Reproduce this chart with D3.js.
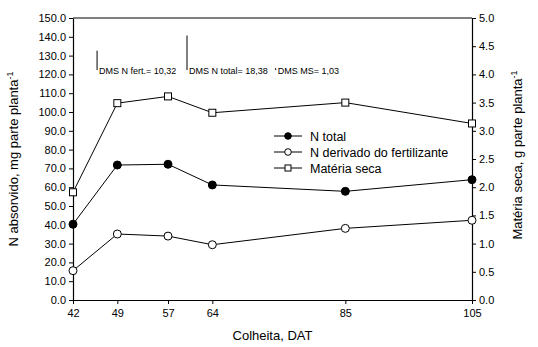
<!DOCTYPE html>
<html>
<head>
<meta charset="utf-8">
<script src="https://cdn.jsdelivr.net/npm/d3@7"></script>
<style>
  body { margin: 0; background: #fff; }
  text { font-family: "Liberation Sans", Arial, sans-serif; fill: #000; }
</style>
</head>
<body>
<svg id="chart" width="538" height="347"></svg>
<script>
// dados
const colheita = [42, 49, 57, 64, 85, 105];
const nTotal = [40.3, 71.8, 72.2, 61.2, 57.8, 64.0];
const nFert = [15.6, 35.1, 34.0, 29.4, 38.1, 42.4];
const materiaSeca = [1.91, 3.49, 3.61, 3.32, 3.50, 3.13];
const leftTicks = d3.range(0, 150.1, 10);
const rightTicks = d3.range(0, 5.01, 0.5);
const dms = [
  { label: "DMS N fert.= 10,32", value: 10.32, at: 45.8 },
  { label: "DMS N total= 18,38", value: 18.38, at: 60 },
  { label: "DMS MS= 1,03", value: 1.03, at: 74 }
];

const svg = d3.select("#chart");
const margin = { top: 18, right: 66, bottom: 47, left: 73 };
const width = 538 - margin.left - margin.right;
const height = 347 - margin.top - margin.bottom;

const x = d3.scaleLinear().domain([42, 105]).range([0, width]);
const y = d3.scaleLinear().domain([0, 150]).range([height, 0]);
const y2 = d3.scaleLinear().domain([0, 5]).range([height, 0]);

const g = svg.append("g")
  .attr("transform", "translate(" + margin.left + "," + margin.top + ")");

// top frame line
g.append("line")
  .attr("x1", 0).attr("x2", width)
  .attr("y1", 0).attr("y2", 0)
  .attr("stroke", "#000");

// Axes
const styleAxis = (sel) => {
  sel.selectAll("path").attr("stroke", "#000");
  sel.selectAll("line").attr("stroke", "#000");
  sel.selectAll("text").style("font-size", "11px").attr("fill", "#000");
};

g.append("g")
  .attr("transform", "translate(0," + height + ")")
  .call(d3.axisBottom(x).tickValues(colheita).tickSize(4).tickSizeOuter(0).tickPadding(5))
  .call(styleAxis);

g.append("g")
  .call(d3.axisLeft(y).tickValues(leftTicks).tickFormat(d3.format(".1f")).tickSize(4).tickSizeOuter(0).tickPadding(3))
  .call(styleAxis);

g.append("g")
  .attr("transform", "translate(" + width + ",0)")
  .call(d3.axisRight(y2).tickValues(rightTicks).tickFormat(d3.format(".1f")).tickSize(4).tickSizeOuter(0).tickPadding(3))
  .call(styleAxis);

g.selectAll(".domain").attr("stroke-width", 1.2);

// Lines
const lineL = d3.line().x((d, i) => x(colheita[i])).y(d => y(d));
const lineR = d3.line().x((d, i) => x(colheita[i])).y(d => y2(d));

g.append("path").datum(materiaSeca).attr("d", lineR)
  .attr("fill", "none").attr("stroke", "#000").attr("stroke-width", 1);
g.append("path").datum(nTotal).attr("d", lineL)
  .attr("fill", "none").attr("stroke", "#000").attr("stroke-width", 1);
g.append("path").datum(nFert).attr("d", lineL)
  .attr("fill", "none").attr("stroke", "#000").attr("stroke-width", 1);

// Markers
g.selectAll(".sq").data(materiaSeca).enter().append("rect")
  .attr("x", (d, i) => x(colheita[i]) - 3.5)
  .attr("y", d => y2(d) - 3.5)
  .attr("width", 7).attr("height", 7)
  .attr("fill", "#fff").attr("stroke", "#000");

g.selectAll(".tot").data(nTotal).enter().append("circle")
  .attr("cx", (d, i) => x(colheita[i]))
  .attr("cy", d => y(d))
  .attr("r", 4).attr("fill", "#000").attr("stroke", "#000");

g.selectAll(".fert").data(nFert).enter().append("circle")
  .attr("cx", (d, i) => x(colheita[i]))
  .attr("cy", d => y(d))
  .attr("r", 4).attr("fill", "#fff").attr("stroke", "#000");

// DMS bars
const dmsBase = 122.3;
dms.forEach(d => {
  g.append("line")
    .attr("x1", x(d.at)).attr("x2", x(d.at))
    .attr("y1", y(dmsBase)).attr("y2", y(dmsBase + d.value))
    .attr("stroke", "#000").attr("stroke-width", 1);
  g.append("text")
    .attr("x", x(d.at) + 2)
    .attr("y", y(dmsBase) + 3.5)
    .style("font-size", "9px")
    .text(d.label);
});

// Legend
const legend = [
  { label: "N total", type: "filled" },
  { label: "N derivado do fertilizante", type: "open" },
  { label: "Matéria seca", type: "square" }
];
const lg = svg.append("g").attr("transform", "translate(274,136)");
legend.forEach((d, i) => {
  const row = lg.append("g").attr("transform", "translate(0," + (i * 16) + ")");
  row.append("line").attr("x1", 0).attr("x2", 28).attr("y1", 0).attr("y2", 0)
    .attr("stroke", "#000");
  if (d.type === "square") {
    row.append("rect").attr("x", 11).attr("y", -3).attr("width", 6).attr("height", 6)
      .attr("fill", "#fff").attr("stroke", "#000");
  } else {
    row.append("circle").attr("cx", 14).attr("cy", 0).attr("r", 3.3)
      .attr("fill", d.type === "filled" ? "#000" : "#fff").attr("stroke", "#000");
  }
  row.append("text").attr("x", 36).attr("y", 4.5)
    .style("font-size", "12.5px").text(d.label);
});

// Axis titles
svg.append("text")
  .attr("x", margin.left + width / 2).attr("y", 340)
  .attr("text-anchor", "middle").style("font-size", "13px")
  .text("Colheita, DAT");

const lt = svg.append("text")
  .attr("transform", "translate(18," + (margin.top + height / 2) + ") rotate(-90)")
  .attr("text-anchor", "middle").style("font-size", "13px");
lt.append("tspan").text("N absorvido, mg parte planta");
lt.append("tspan").attr("dy", -5).style("font-size", "9px").text("-1");

const rt = svg.append("text")
  .attr("transform", "translate(522," + (margin.top + height / 2 - 4) + ") rotate(-90)")
  .attr("text-anchor", "middle").style("font-size", "13px");
rt.append("tspan").text("Matéria seca, g parte planta");
rt.append("tspan").attr("dy", -5).style("font-size", "9px").text("-1");
</script>
</body>
</html>
